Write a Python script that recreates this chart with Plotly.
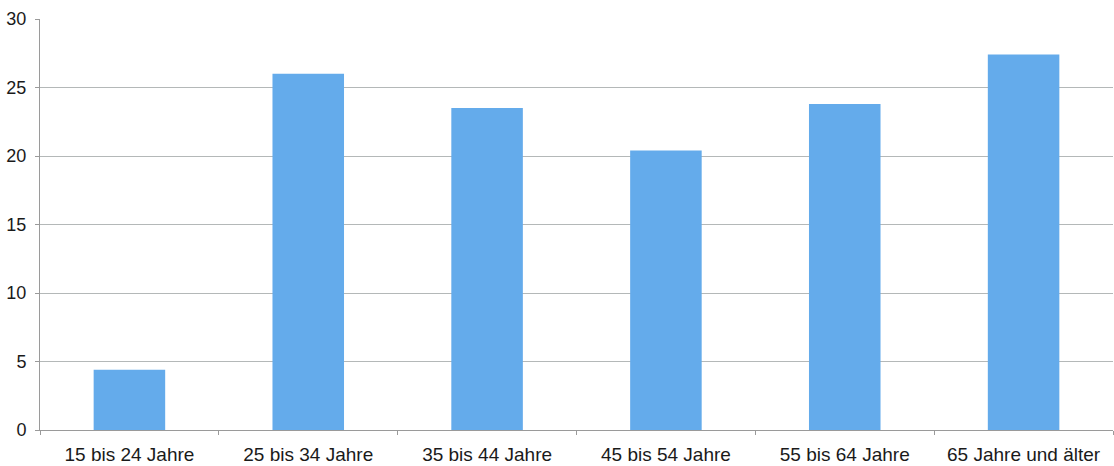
import plotly.graph_objects as go

# Altersgruppen und Anteile
categories = ["15 bis 24 Jahre", "25 bis 34 Jahre", "35 bis 44 Jahre",
              "45 bis 54 Jahre", "55 bis 64 Jahre", "65 Jahre und älter"]
values = [4.4, 26.0, 23.5, 20.4, 23.8, 27.4]
y_ticks = [0, 5, 10, 15, 20, 25, 30]

font_family = "Liberation Sans, Arial, sans-serif"

fig = go.Figure(
    go.Bar(
        x=categories,
        y=values,
        marker=dict(color="#64abeb", line=dict(width=0)),
        hoverinfo="x+y",
    )
)

fig.update_layout(
    width=1114,
    height=466,
    margin=dict(l=40, r=1, t=19, b=33),
    paper_bgcolor="white",
    plot_bgcolor="white",
    bargap=0.6,
    showlegend=False,
    font=dict(family=font_family, color="#1a1a1a"),
)

fig.update_xaxes(
    type="category",
    showgrid=False,
    showline=True,
    linecolor="#9a9a9a",
    linewidth=1,
    ticks="outside",
    tickson="boundaries",
    ticklen=4,
    tickcolor="#9a9a9a",
    tickfont=dict(size=19, family=font_family, color="#1a1a1a"),
    ticklabelstandoff=7,
)

fig.update_yaxes(
    range=[0, 30],
    tickvals=y_ticks,
    showgrid=True,
    gridcolor="#b4b8b8",
    gridwidth=1,
    zeroline=False,
    showline=True,
    linecolor="#9a9a9a",
    linewidth=1,
    ticks="outside",
    ticklen=4,
    tickcolor="#9a9a9a",
    tickfont=dict(size=18, family=font_family, color="#1a1a1a"),
    ticklabelstandoff=5,
)

fig.write_html("out.html")
